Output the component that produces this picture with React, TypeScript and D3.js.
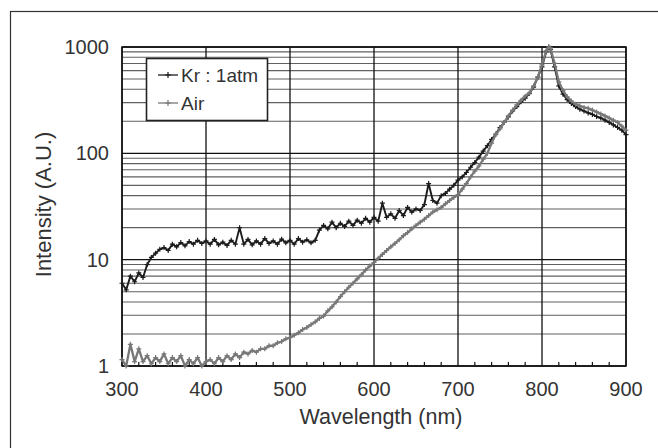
import React from 'react';
import * as d3 from 'd3';

// wavelength (nm) / intensity (A.U.)
const krWavelength = [
  300, 305, 310, 315, 320, 325, 330, 335, 340, 345, 350, 355, 360, 365, 370, 375, 380, 385, 390, 395,
  400, 405, 410, 415, 420, 425, 430, 435, 440, 445, 450, 455, 460, 465, 470, 475, 480, 485, 490, 495,
  500, 505, 510, 515, 520, 525, 530, 535, 540, 545, 550, 555, 560, 565, 570, 575, 580, 585, 590, 595,
  600, 605, 610, 615, 620, 625, 630, 635, 640, 645, 650, 655, 660, 665, 670, 675, 680, 685, 690, 695,
  700, 705, 710, 715, 720, 725, 730, 735, 740, 745, 750, 755, 760, 765, 770, 775, 780, 785, 790, 795,
  800, 805, 808, 810, 815, 820, 825, 830, 835, 840, 845, 850, 855, 860, 865, 870, 875, 880, 885, 890,
  895, 900,
];
const krIntensity = [
  6.0, 5.2, 7.0, 6.2, 7.5, 6.8, 9.0, 10.5, 11.5, 12.5, 13.0, 12.2, 14.0, 13.2, 14.5, 13.5, 14.8, 14.0, 15.2, 14.2,
  15.0, 14.0, 15.5, 13.8, 14.6, 13.6, 15.2, 14.0, 20.0, 14.0, 15.5, 13.8, 15.0, 14.0, 15.8, 14.2, 15.0, 14.0, 15.6, 14.4,
  15.2, 14.0, 15.8, 14.6, 15.4, 14.4, 15.2, 19.0, 21.0, 19.5, 22.5, 20.0, 22.0, 20.5, 23.0, 21.0, 23.5, 22.0, 24.5, 22.5,
  25.0, 23.0, 34.0, 25.0, 27.0, 24.5, 29.0, 26.0, 31.0, 28.0, 30.0, 29.0, 33.0, 52.0, 36.0, 34.0, 40.0, 42.0, 46.0, 50.0,
  56, 60, 66, 74, 82, 92, 105, 118, 135, 152, 175, 195, 220, 250, 275, 305, 330, 365, 420, 520,
  650, 900, 1000, 950, 650, 430, 360, 320, 295, 275, 260, 250, 240, 232, 222, 215, 205, 195, 185, 175,
  165, 150,
];

const airWavelength = krWavelength;
const airIntensity = [
  1.15, 1.0, 1.6, 1.1, 1.45, 1.1, 1.25, 1.05, 1.2, 1.1, 1.3, 1.05, 1.2, 1.1, 1.25, 1.0, 1.15, 1.05, 1.2, 1.0,
  1.1, 1.15, 1.05, 1.2, 1.1, 1.25, 1.15, 1.3, 1.2, 1.35, 1.3, 1.4, 1.35, 1.45, 1.45, 1.55, 1.55, 1.65, 1.7, 1.8,
  1.85, 1.95, 2.05, 2.2, 2.3, 2.45, 2.6, 2.8, 2.95, 3.3, 3.6, 4.0, 4.5, 5.0, 5.5, 6.0, 6.6, 7.2, 8.0, 8.7,
  9.4, 10.3, 11.2, 12.2, 13.2, 14.2, 15.4, 16.8, 18.0, 19.5, 21.0, 22.5, 24.0, 26.0, 28.0, 29.5, 31.0, 33.5, 36.0, 38.5,
  41, 46, 52, 60, 68, 76, 88, 100, 125, 150, 170, 195, 225, 255, 285, 315, 345, 370, 430, 520,
  680, 920, 1000, 980, 700, 470, 390, 340, 310, 290, 280, 270, 265, 255, 245, 235, 225, 215, 205, 195,
  180, 165,
];

const xTicks = [300, 400, 500, 600, 700, 800, 900];
const yTicks = [1, 10, 100, 1000];
const seriesNames = ['Kr : 1atm', 'Air'];

const W = 658;
const H = 448;
const margin = { top: 47, right: 32, bottom: 82, left: 122 };
const FONT = 'Liberation Sans, Arial, sans-serif';

export default function App() {
  const iw = W - margin.left - margin.right;
  const ih = H - margin.top - margin.bottom;

  const x = d3.scaleLinear().domain([300, 900]).range([0, iw]);
  const y = d3.scaleLog().domain([1, 1000]).range([ih, 0]);

  // minor log gridlines 2..9 in each decade
  const minor: number[] = [];
  for (const dec of [1, 10, 100]) for (let k = 2; k <= 9; k++) minor.push(dec * k);
  const xMinor = d3.range(300, 901, 20).filter(v => v % 100 !== 0);

  const line = d3.line<[number, number]>().x(d => x(d[0])).y(d => y(d[1]));
  const kr: [number, number][] = krWavelength.map((w, i) => [w, krIntensity[i]]);
  const air: [number, number][] = airWavelength.map((w, i) => [w, airIntensity[i]]);

  const cross = (cx: number, cy: number, s: number) => `M${cx - s},${cy}H${cx + s}M${cx},${cy - s}V${cy + s}`;

  const series = [
    { name: seriesNames[0], data: kr, color: '#1c1c1c', width: 1.9 },
    { name: seriesNames[1], data: air, color: '#787878', width: 2.3 },
  ];

  return (
    <svg width={W} height={H} style={{ position: 'absolute', left: 0, top: 0, background: '#fff' }}>
      {/* outer frame, runs past right and bottom edges */}
      <rect x={10.5} y={11.5} width={700} height={500} fill="none" stroke="#333" strokeWidth={1.2} />
      <g transform={`translate(${margin.left},${margin.top})`}>
        {minor.map(v => (
          <line key={'m' + v} x1={0} x2={iw} y1={y(v)} y2={y(v)} stroke="#606060" strokeWidth={1.1} />
        ))}
        {yTicks.map(v => (
          <line key={'y' + v} x1={0} x2={iw} y1={y(v)} y2={y(v)} stroke="#111" strokeWidth={1.3} />
        ))}
        {xTicks.map(v => (
          <line key={'x' + v} x1={x(v)} x2={x(v)} y1={0} y2={ih} stroke="#111" strokeWidth={1.3} />
        ))}
        {xMinor.map(v => (
          <line key={'xm' + v} x1={x(v)} x2={x(v)} y1={ih} y2={ih - 4} stroke="#111" strokeWidth={1.2} />
        ))}
        <rect x={0} y={0} width={iw} height={ih} fill="none" stroke="#111" strokeWidth={1.5} />

        {series.map(s => (
          <g key={s.name}>
            <path d={line(s.data) || ''} fill="none" stroke={s.color} strokeWidth={s.width} strokeLinejoin="round" />
            <path
              d={s.data.map(d => cross(x(d[0]), y(d[1]), 2.5)).join('')}
              fill="none"
              stroke={s.color}
              strokeWidth={1.2}
            />
          </g>
        ))}

        {xTicks.map(v => (
          <text key={'xl' + v} x={x(v)} y={ih + 30} textAnchor="middle" fontFamily={FONT} fontSize={20} fill="#333">
            {v}
          </text>
        ))}
        {yTicks.map(v => (
          <text key={'yl' + v} x={-13} y={y(v)} dy="0.35em" textAnchor="end" fontFamily={FONT} fontSize={20} fill="#333">
            {v}
          </text>
        ))}

        {/* legend */}
        <g transform="translate(24,11)">
          <rect x={0.5} y={0.5} width={121} height={62} fill="#fff" stroke="#222" strokeWidth={1.6} />
          {series.map((s, i) => (
            <g key={'lg' + s.name} transform={`translate(0,${17 + i * 28})`}>
              <line x1={12} x2={32} y1={0} y2={0} stroke={s.color} strokeWidth={1.3} />
              <path d={cross(22, 0, 3)} stroke={s.color} strokeWidth={1.2} />
              <text x={35} y={0} dy="0.36em" fontFamily={FONT} fontSize={19} fill="#333">
                {s.name}
              </text>
            </g>
          ))}
        </g>
      </g>

      <text
        x={381}
        y={H - 24}
        textAnchor="middle"
        fontFamily={FONT}
        fontSize={21.5}
        fill="#333"
      >
        Wavelength (nm)
      </text>
      <text
        transform={`translate(51,${margin.top + ih / 2 - 2}) rotate(-90)`}
        textAnchor="middle"
        fontFamily={FONT}
        fontSize={22}
        fill="#333"
      >
        Intensity (A.U.)
      </text>
    </svg>
  );
}
